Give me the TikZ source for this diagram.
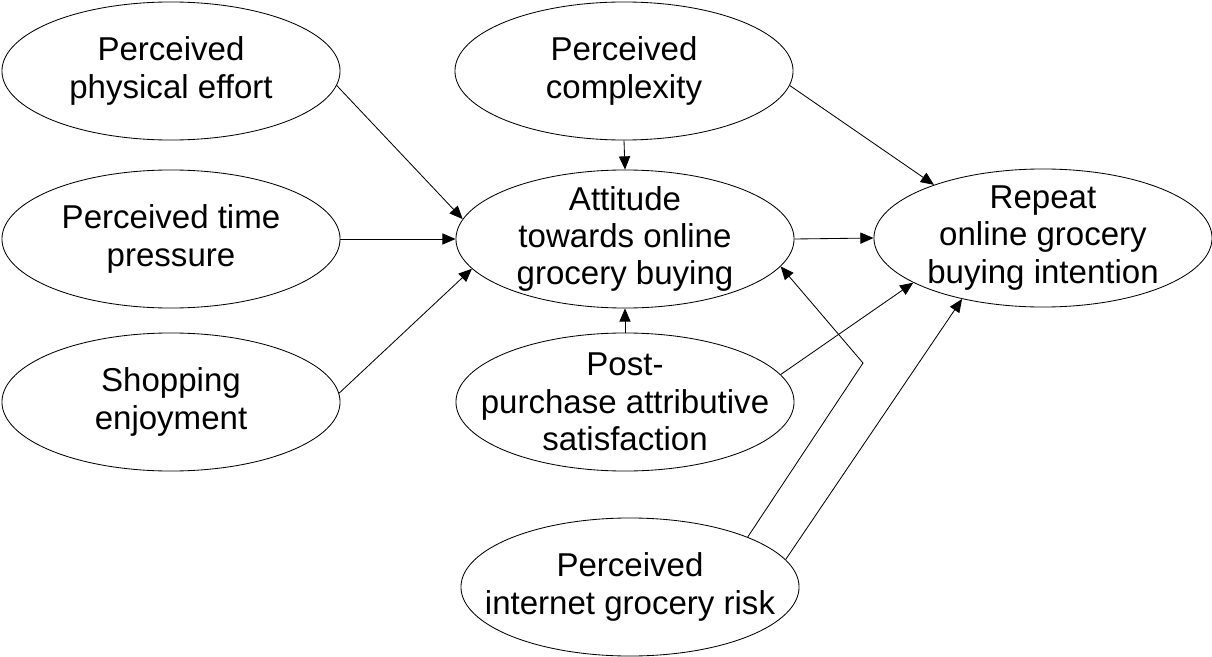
\documentclass[tikz,border=0pt]{standalone}
\usepackage{fontspec}
\setmainfont{Liberation Sans}
\usetikzlibrary{shapes.geometric,arrows.meta}

\begin{document}
\begin{tikzpicture}[
  x=0.025cm, y=-0.025cm,
  font=\fontsize{23.5}{26.5}\selectfont,
  construct/.style={draw, ellipse, line width=0.6pt, inner sep=-2cm,
    minimum width=8.45cm, minimum height=3.45cm, align=center},
  arr/.style={-{Triangle[length=3.3mm, width=2.8mm]}, line width=0.6pt},
]
\useasboundingbox (0,0) rectangle (1212,657);

% left column
\node[construct] (effort) at (171,71) {Perceived\\physical effort};
\node[construct] (time) at (171,239) {Perceived time\\pressure};
\node[construct] (enjoy) at (171,402) {Shopping\\enjoyment};

% middle column
\node[construct] (complex) at (624,71) {Perceived\\complexity};
\node[construct] (attitude) at (625,239) {Attitude\\towards online\\grocery buying};
\node[construct] (satisf) at (625,402) {Post-\\purchase attributive\\satisfaction};
\node[construct] (risk) at (630,587) {Perceived\\internet grocery risk};

% outcome
\node[construct] (repeat) at (1043,238) {Repeat\\online grocery\\buying intention};

\draw[arr] (effort.-5) -- (attitude.173);
\draw[arr] (time.east) -- (attitude.west);
\draw[arr] (enjoy.3) -- (attitude.-169);
\draw[arr] (complex.south) -- (attitude.north);
\draw[arr] (satisf.north) -- (attitude.south);

\draw[arr] (complex.-5) -- (repeat.154);
\draw[arr] (attitude.east) -- (repeat.west);
\draw[arr] (satisf.10) -- (repeat.-161);

\coordinate (kink) at (863,363);
\draw[arr] (risk.23) -- (kink) -- (attitude.-10);
\draw[arr] (risk.10) -- (repeat.-143);

\end{tikzpicture}
\end{document}
